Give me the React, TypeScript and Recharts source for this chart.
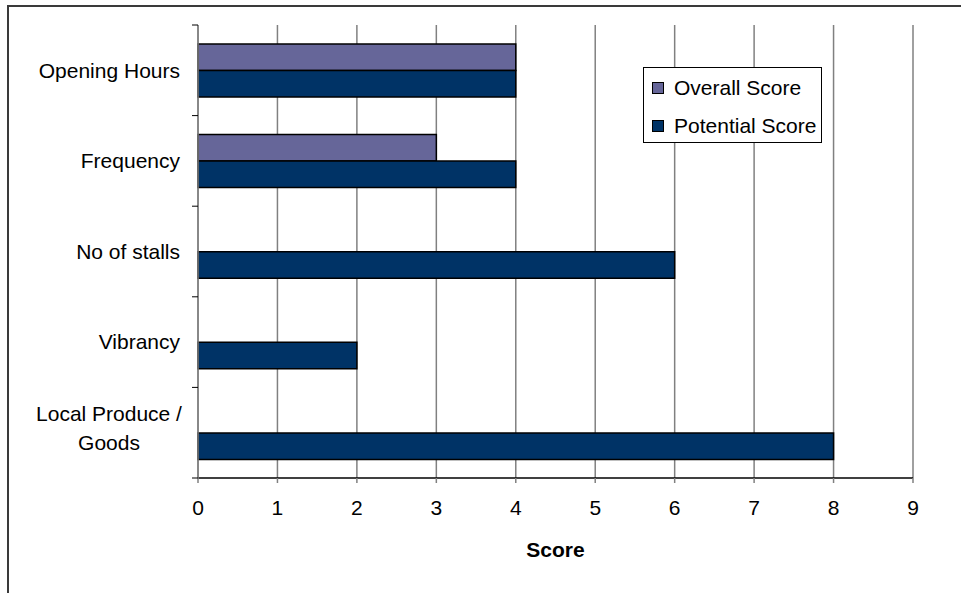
import React from "react";
import {
  BarChart,
  Bar,
  XAxis,
  YAxis,
  CartesianGrid,
  Legend,
} from "recharts";

// categories top to bottom
const categories = [
  "Opening Hours",
  "Frequency",
  "No of stalls",
  "Vibrancy",
  "Local Produce / Goods",
];
const overallScore: (number | null)[] = [4, 3, null, null, null];
const potentialScore = [4, 4, 6, 2, 8];
const xTicks = [0, 1, 2, 3, 4, 5, 6, 7, 8, 9];

const seriesNames = { overall: "Overall Score", potential: "Potential Score" };
const colors = { overall: "#666699", potential: "#003366" };

const chartData = categories.map((name, i) => ({
  name,
  overall: overallScore[i],
  potential: potentialScore[i],
}));

const FONT = "'Liberation Sans', Arial, sans-serif";
const FONT_SIZE = 21;
const Y_TICK_SIZE = 6;
const Y_TICK_MARGIN = 12;

function CategoryTick(props: any) {
  const { x, y, payload } = props;
  const half = payload.offset || 45.3;
  const label: string = payload.value;
  const isLast = payload.index === categories.length - 1;
  const lineX1 = x + Y_TICK_MARGIN;
  const lineX2 = lineX1 + Y_TICK_SIZE;

  // wrapped label (Excel-style centred lines)
  const wrapped = label.includes(" / ");
  const lines = wrapped
    ? [label.split(" / ")[0] + " /", label.split(" / ")[1]]
    : [label];

  return (
    <g>
      {/* category boundary ticks */}
      <line x1={lineX1} x2={lineX2} y1={y - half} y2={y - half} stroke="#000" />
      {isLast && (
        <line x1={lineX1} x2={lineX2} y1={y + half} y2={y + half} stroke="#000" />
      )}
      {wrapped ? (
        lines.map((ln, i) => (
          <text
            key={i}
            x={x - 71}
            y={y + (i === 0 ? -19.5 : 10)}
            dy="0.35em"
            textAnchor="middle"
            fill="#000"
            fontSize={FONT_SIZE}
            fontFamily={FONT}
          >
            {ln}
          </text>
        ))
      ) : (
        <text
          x={x}
          y={y}
          dy="0.35em"
          textAnchor="end"
          fill="#000"
          fontSize={FONT_SIZE}
          fontFamily={FONT}
        >
          {label}
        </text>
      )}
    </g>
  );
}

function LegendBox() {
  const items = [
    { key: "overall", label: seriesNames.overall, color: colors.overall },
    { key: "potential", label: seriesNames.potential, color: colors.potential },
  ];
  return (
    <div
      style={{
        position: "relative",
        width: 179,
        height: 76,
        boxSizing: "border-box",
        border: "1px solid #000",
        background: "#fff",
        fontFamily: FONT,
        fontSize: FONT_SIZE,
        color: "#000",
      }}
    >
      {items.map((it, i) => (
        <div
          key={it.key}
          style={{
            position: "absolute",
            left: 8,
            top: 20 + i * 37.5 - 13,
            height: 26,
            display: "flex",
            alignItems: "center",
            whiteSpace: "nowrap",
          }}
        >
          <span
            style={{
              display: "inline-block",
              width: 12,
              height: 12,
              boxSizing: "border-box",
              border: "1px solid #000",
              background: it.color,
              marginRight: 10,
            }}
          />
          <span>{it.label}</span>
        </div>
      ))}
    </div>
  );
}

export default function App() {
  return (
    <div
      style={{
        position: "absolute",
        left: 0,
        top: 0,
        width: 961,
        height: 593,
        background: "#fff",
        overflow: "hidden",
      }}
    >
      {/* chart frame: top and left edges only are visible */}
      <div
        style={{
          position: "absolute",
          left: 7,
          top: 5,
          width: 961,
          height: 593,
          borderTop: "2px solid #3a3a3a",
          borderLeft: "2px solid #3a3a3a",
        }}
      />
      <div style={{ position: "absolute", left: 0, top: 0 }}>
        <BarChart
          width={961}
          height={593}
          data={chartData}
          layout="vertical"
          margin={{ top: 25, right: 48, bottom: 25, left: 8 }}
          barGap={0}
          barSize={26.5}
        >
          <CartesianGrid
            horizontal={false}
            vertical={true}
            stroke="#808080"
            strokeWidth={1.5}
          />
          <XAxis
            type="number"
            domain={[0, 9]}
            ticks={xTicks}
            interval={0}
            height={90}
            tickSize={5}
            tickMargin={17}
            axisLine={{ stroke: "#000", strokeWidth: 1.5 }}
            tickLine={{ stroke: "#808080", strokeWidth: 1.5 }}
            tick={{ fill: "#000", fontSize: FONT_SIZE, fontFamily: FONT }}
            label={{
              value: "Score",
              position: "insideBottom",
              offset: 11,
              style: {
                fill: "#000",
                fontSize: FONT_SIZE,
                fontFamily: FONT,
                fontWeight: "bold",
              },
            }}
          />
          <YAxis
            type="category"
            dataKey="name"
            width={190}
            tickSize={Y_TICK_SIZE}
            tickMargin={Y_TICK_MARGIN}
            tickLine={false}
            axisLine={{ stroke: "#808080", strokeWidth: 1.5 }}
            interval={0}
            tick={<CategoryTick />}
          />
          <Legend
            layout="vertical"
            verticalAlign="middle"
            align="center"
            wrapperStyle={{ left: 643, top: 67, width: 179, height: 76 }}
            content={() => <LegendBox />}
          />
          <Bar
            dataKey="overall"
            name={seriesNames.overall}
            fill={colors.overall}
            stroke="#000"
            strokeWidth={1.5}
            isAnimationActive={false}
          />
          <Bar
            dataKey="potential"
            name={seriesNames.potential}
            fill={colors.potential}
            stroke="#000"
            strokeWidth={1.5}
            isAnimationActive={false}
          />
        </BarChart>
      </div>
    </div>
  );
}
